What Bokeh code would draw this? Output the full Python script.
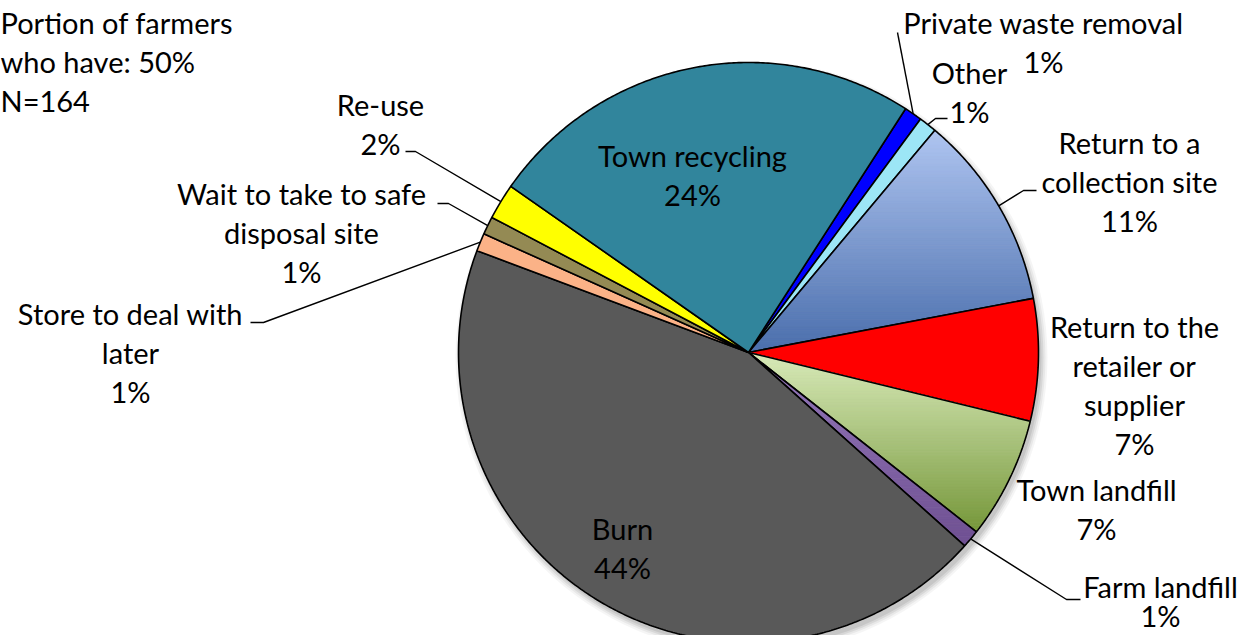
import numpy as np
from bokeh.plotting import figure
from bokeh.models import Range1d
from bokeh.core.properties import value
from bokeh.embed import file_html
from bokeh.resources import INLINE

# ---------------- data ----------------
categories = [
    "Private waste removal", "Other", "Return to a collection site",
    "Return to the retailer or supplier", "Town landfill", "Farm landfill",
    "Burn", "Store to deal with later", "Wait to take to safe disposal site",
    "Re-use", "Town recycling",
]
shares = [1.0, 1.0, 10.9, 6.8, 6.8, 1.0, 44.1, 1.0, 1.0, 2.0, 24.4]
label_lines = [
    ["Private waste removal"], ["Other"], ["Return to a", "collection site"],
    ["Return to the", "retailer or", "supplier"], ["Town landfill"], ["Farm landfill"],
    ["Burn"], ["Store to deal with", "later"], ["Wait to take to safe", "disposal site"],
    ["Re-use"], ["Town recycling"],
]
note_lines = ["Portion of farmers", "who have: 50%", "N=164"]

# ---------------- styles / layout ----------------
top_colors = ["#0000FF", "#9CE6F6", "#AFC5F1", "#FF0000", "#D9EBBA", "#9478BA",
              "#595959", "#FBB287", "#948A54", "#FFFF00", "#31859C"]
bottom_colors = ["#0000FF", "#9CE6F6", "#4A6EAC", "#FF0000", "#76973A", "#6F5092",
                 "#595959", "#FBB287", "#948A54", "#FFFF00", "#31859C"]
# label anchor (screen px: centre x, first line y), line spacing
label_pos = [(1043, 22, 39), (969, 72, 39), (1129, 142, 39), (1134, 326, 39),
             (1096, 489, 39), (1160, 586, 29), (622, 528, 39), (130, 313, 39),
             (301, 193, 39), (380, 104, 39), (692, 155, 39)]
# leader line elbows (screen px), None = no leader
leaders = [[(897, 32)], [(935, 118), (947, 118)], [(1023, 190), (1036, 190)], None, None,
           [(1066, 599), (1080, 599)], None, [(263, 322), (250, 322)],
           [(448, 203), (437, 203)], [(415, 151), (405, 151)], None]

W, H = 1241, 635
CX, CY, R = 748, 352, 290
START_DEG = 32.8
FONT = "Lato"
FSIZE = "29px"


def sx(X):
    return X - CX


def sy(Y):
    return CY - Y


def hex2rgb(h):
    h = h.lstrip("#")
    return np.array([int(h[i:i + 2], 16) for i in (0, 2, 4)], dtype=float)


def rgb2hex(c):
    return "#%02x%02x%02x" % tuple(int(round(v)) for v in c)


def clip(poly, y0, keep_above):
    out = []
    n = len(poly)
    for i in range(n):
        a = poly[i]
        b = poly[(i + 1) % n]
        ina = a[1] >= y0 if keep_above else a[1] <= y0
        inb = b[1] >= y0 if keep_above else b[1] <= y0
        if ina:
            out.append(a)
        if ina != inb:
            t = (y0 - a[1]) / (b[1] - a[1])
            out.append((a[0] + t * (b[0] - a[0]), y0))
    return out


p = figure(width=W, height=H, output_backend="svg", toolbar_location=None,
           x_range=Range1d(-CX, W - CX), y_range=Range1d(CY - H, CY),
           x_axis_type=None, y_axis_type=None, min_border=0)
p.grid.visible = False
p.outline_line_color = None
p.background_fill_color = "white"
p.border_fill_color = "white"

# soft shadow
for dr, a in [(6, 0.04), (4, 0.05), (2, 0.07), (0, 0.08)]:
    p.circle(x=[3], y=[-5], radius=R + dr, fill_color="black", fill_alpha=a, line_color=None)

total = sum(shares)
ang = np.radians(START_DEG)
for i, v in enumerate(shares):
    span = v / total * 2 * np.pi
    th = np.linspace(ang, ang + span, max(8, int(span * 120)))
    poly = [(0.0, 0.0)] + [(R * np.sin(t), R * np.cos(t)) for t in th]
    ys = [q[1] for q in poly]
    ymin, ymax = min(ys), max(ys)
    c_top, c_bot = hex2rgb(top_colors[i]), hex2rgb(bottom_colors[i])
    if top_colors[i] != bottom_colors[i]:
        nb = 60
        edges = np.linspace(ymax, ymin, nb + 1)
        xs_l, ys_l, cols = [], [], []
        for k in range(nb):
            band = clip(clip(poly, edges[k + 1], True), edges[k], False)
            if len(band) < 3:
                continue
            f = (k + 0.5) / nb
            col = rgb2hex(c_top + (c_bot - c_top) * f)
            xs_l.append([q[0] for q in band])
            ys_l.append([q[1] for q in band])
            cols.append(col)
        p.patches(xs_l, ys_l, fill_color=cols, line_color=cols, line_width=0.8)
        p.patch([q[0] for q in poly], [q[1] for q in poly], fill_alpha=0,
                line_color="black", line_width=1.6)
    else:
        p.patch([q[0] for q in poly], [q[1] for q in poly], fill_color=top_colors[i],
                line_color="black", line_width=1.6)
    mid = ang + span / 2
    if leaders[i] is not None:
        lx = [R * np.sin(mid)] + [sx(X) for X, _ in leaders[i]]
        ly = [R * np.cos(mid)] + [sy(Y) for _, Y in leaders[i]]
        p.line(lx, ly, line_color="black", line_width=1.4)
    lines = label_lines[i] + ["%d%%" % round(v)]
    X0, Y0, LH = label_pos[i]
    p.text(x=[sx(X0)] * len(lines), y=[sy(Y0 + LH * j) for j in range(len(lines))],
           text=lines, text_align="center", text_baseline="middle",
           text_font=value(FONT), text_font_size=FSIZE, text_color="black")
    ang += span

p.text(x=[sx(0)] * 3, y=[sy(22 + 39 * j) for j in range(3)], text=note_lines,
       text_align="left", text_baseline="middle", text_font=value(FONT),
       text_font_size=FSIZE, text_color="black")

open("out.html", "w").write(file_html(p, INLINE))
